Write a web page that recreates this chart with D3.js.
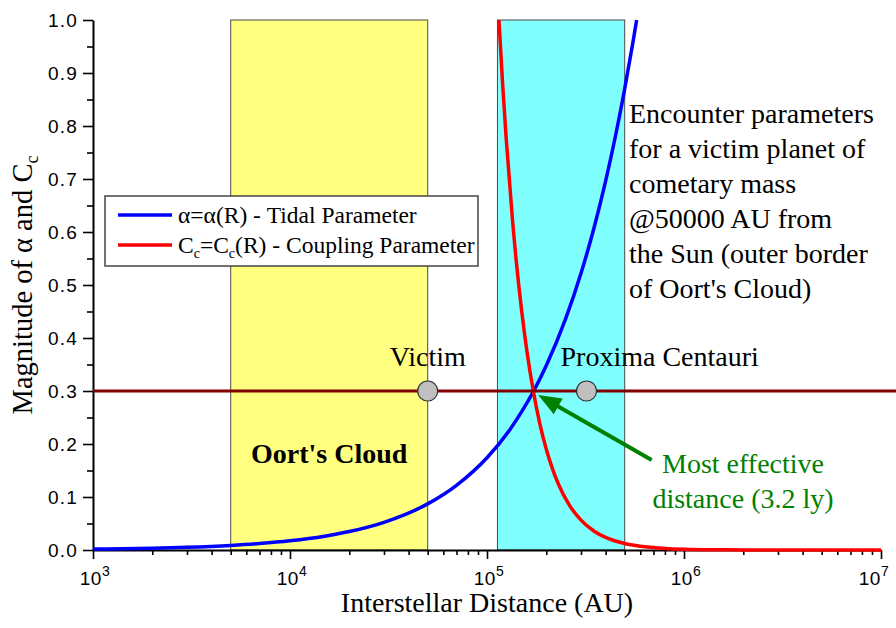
<!DOCTYPE html>
<html>
<head>
<meta charset="utf-8">
<script src="https://cdn.jsdelivr.net/npm/d3@7"></script>
<style>
  body { margin: 0; background: #ffffff; }
  svg { display: block; }
</style>
</head>
<body>
<svg id="chart" width="896" height="628"></svg>
<script>
// ---- data ----
const xDomain = [1e3, 1e7];
const yDomain = [0, 1];
const xTickExponents = [3, 4, 5, 6, 7];
const yTickValues = [0, 0.1, 0.2, 0.3, 0.4, 0.5, 0.6, 0.7, 0.8, 0.9, 1.0];

// shaded bands (AU)
const oortCloudRange = [5e3, 5e4];
const encounterRange = [1.13e5, 5e5];

// tidal parameter alpha(R)
const tidalR =     [1000, 2000, 3000, 5000, 7000, 10000, 15000, 20000, 30000, 50000, 70000, 100000, 130000, 150000, 172000, 200000, 250000, 300000, 350000, 400000, 450000, 500000, 550000, 575000];
const tidalAlpha = [0.0017, 0.0035, 0.0052, 0.0087, 0.0122, 0.0174, 0.0261, 0.0348, 0.0522, 0.087, 0.122, 0.174, 0.226, 0.261, 0.299, 0.348, 0.435, 0.522, 0.609, 0.696, 0.783, 0.870, 0.957, 1.0];

// coupling parameter Cc(R)
const couplingR =  [115000, 120000, 125000, 135000, 140000, 150000, 160000, 172000, 185000, 200000, 215000, 230000, 260000, 300000, 350000, 400000, 500000, 650000, 800000, 1000000, 1500000, 2000000, 3000000, 5000000, 10000000];
const couplingCc = [1.0, 0.880, 0.779, 0.618, 0.554, 0.451, 0.371, 0.299, 0.240, 0.190, 0.153, 0.125, 0.0865, 0.0563, 0.0355, 0.0238, 0.0122, 0.0055, 0.0030, 0.0015, 0.00045, 0.00019, 0.00006, 0.00001, 0.000002];

// reference level and marked bodies
const referenceLevel = 0.3;
const bodyNames = ["Victim", "Proxima Centauri"];
const bodyR = [5e4, 3.2e5];

// annotations
const noteLines = ["Encounter parameters", "for a victim planet of", "cometary mass", "@50000 AU from", "the Sun (outer border", "of Oort's Cloud)"];
const bestLines = ["Most effective", "distance (3.2 ly)"];
const arrowTip = [1.82e5, 0.2925];
const arrowTail = [6.85e5, 0.17];

// ---- layout ----
const W = 896, H = 628;
const plot = { left: 93, right: 881, top: 20, bottom: 550 };
const serif = "'Liberation Serif', 'Times New Roman', Times, serif";
const sans = "'Liberation Sans', Arial, Helvetica, sans-serif";

const svg = d3.select("#chart");
const x = d3.scaleLog().domain(xDomain).range([plot.left, plot.right]);
const y = d3.scaleLinear().domain(yDomain).range([plot.bottom, plot.top]);

// ---- shaded bands ----
function band(range, fill) {
  svg.append("rect")
    .attr("x", x(range[0])).attr("y", y(1))
    .attr("width", x(range[1]) - x(range[0]))
    .attr("height", y(0) - y(1))
    .attr("fill", fill)
    .attr("stroke", "#4a4a4a").attr("stroke-width", 1);
}
band(oortCloudRange, "#ffff80");
band(encounterRange, "#80ffff");

svg.append("text")
  .attr("x", x(Math.sqrt(oortCloudRange[0] * oortCloudRange[1])))
  .attr("y", y(0.165))
  .attr("text-anchor", "middle")
  .attr("font-family", serif).attr("font-size", 28).attr("font-weight", "bold")
  .text("Oort's Cloud");

// ---- axes ----
const minorX = [];
for (let e = 3; e < 7; e++) for (let m = 2; m <= 9; m++) minorX.push(m * Math.pow(10, e));
const minorY = d3.range(0.05, 1.0, 0.1);

const gx = svg.append("g").attr("transform", `translate(0,${plot.bottom})`);
gx.call(d3.axisBottom(x).tickValues(xTickExponents.map(e => Math.pow(10, e))).tickSize(9).tickSizeOuter(0).tickFormat(""));
gx.append("g").call(d3.axisBottom(x).tickValues(minorX).tickSize(5).tickFormat(""))
  .call(g => g.select(".domain").remove());
gx.selectAll("line").attr("stroke", "#000").attr("stroke-width", 1.6);
gx.select(".domain").attr("stroke", "#000").attr("stroke-width", 2);

// decade labels; the last one is nudged left so it stays inside the frame
const xLabels = svg.append("g").attr("font-family", sans).attr("fill", "#000");
xTickExponents.forEach((e, i) => {
  const nudge = i === xTickExponents.length - 1 ? -7 : 2;
  const t = xLabels.append("text")
    .attr("x", x(Math.pow(10, e)) + nudge)
    .attr("y", plot.bottom + 35)
    .attr("text-anchor", "middle")
    .attr("font-size", 19)
    .attr("letter-spacing", 0.5);
  t.append("tspan").text("10");
  t.append("tspan").attr("dy", -9).attr("font-size", 14).text(e);
});

const gy = svg.append("g").attr("transform", `translate(${plot.left},0)`);
gy.call(d3.axisLeft(y).tickValues(yTickValues).tickSize(10).tickSizeOuter(0).tickFormat(""));
gy.append("g").call(d3.axisLeft(y).tickValues(minorY).tickSize(6).tickFormat(""))
  .call(g => g.select(".domain").remove());
gy.selectAll("line").attr("stroke", "#000").attr("stroke-width", 1.6);
gy.select(".domain").attr("stroke", "#000").attr("stroke-width", 2);

svg.append("g").selectAll("text").data(yTickValues).join("text")
  .attr("x", plot.left - 15)
  .attr("y", d => y(d))
  .attr("dy", "0.36em")
  .attr("text-anchor", "end")
  .attr("font-family", sans).attr("font-size", 19)
  .attr("letter-spacing", 1.2)
  .text(d3.format(".1f"));

// axis titles
svg.append("text")
  .attr("x", (plot.left + plot.right) / 2)
  .attr("y", 612)
  .attr("text-anchor", "middle")
  .attr("font-family", serif).attr("font-size", 28)
  .text("Interstellar Distance (AU)");

const yTitle = svg.append("text")
  .attr("transform", `translate(32,${(plot.top + plot.bottom) / 2}) rotate(-90)`)
  .attr("text-anchor", "middle")
  .attr("font-family", serif).attr("font-size", 28.5);
yTitle.append("tspan").text("Magnitude of \u03b1 and C");
yTitle.append("tspan").attr("dy", 6).attr("font-size", 18).text("c");

// ---- curves ----
const line = d3.line().x(d => x(d[0])).y(d => y(d[1])).curve(d3.curveMonotoneX);

svg.append("path")
  .datum(tidalR.map((r, i) => [r, tidalAlpha[i]]))
  .attr("d", line)
  .attr("fill", "none").attr("stroke", "#0000ff").attr("stroke-width", 3.5);

svg.append("path")
  .datum(couplingR.map((r, i) => [r, couplingCc[i]]))
  .attr("d", line)
  .attr("fill", "none").attr("stroke", "#ff0000").attr("stroke-width", 3.5);

// reference level line
svg.append("line")
  .attr("x1", plot.left).attr("x2", W)
  .attr("y1", y(referenceLevel)).attr("y2", y(referenceLevel))
  .attr("stroke", "#800000").attr("stroke-width", 3);

// marked bodies
svg.append("g").selectAll("circle").data(bodyR).join("circle")
  .attr("cx", d => x(d)).attr("cy", y(referenceLevel)).attr("r", 10)
  .attr("fill", "#c0c0c0").attr("stroke", "#333").attr("stroke-width", 1.2);

const bodyLabelOffset = [0, -26];
const bodyLabelAnchor = ["middle", "start"];
svg.append("g").selectAll("text").data(bodyNames).join("text")
  .attr("x", (d, i) => x(bodyR[i]) + bodyLabelOffset[i])
  .attr("y", y(referenceLevel) - 25)
  .attr("text-anchor", (d, i) => bodyLabelAnchor[i])
  .attr("font-family", serif).attr("font-size", 28)
  .text(d => d);

// ---- annotation arrow ----
const tip = [x(arrowTip[0]), y(arrowTip[1])];
const tail = [x(arrowTail[0]), y(arrowTail[1])];
const ang = Math.atan2(tip[1] - tail[1], tip[0] - tail[0]);
const headLen = 23, headHalf = 9;
const base = [tip[0] - headLen * Math.cos(ang), tip[1] - headLen * Math.sin(ang)];
svg.append("line")
  .attr("x1", tail[0]).attr("y1", tail[1])
  .attr("x2", base[0] + 2 * Math.cos(ang)).attr("y2", base[1] + 2 * Math.sin(ang))
  .attr("stroke", "#008000").attr("stroke-width", 4);
svg.append("polygon")
  .attr("points", [
    tip,
    [base[0] + headHalf * Math.sin(ang), base[1] - headHalf * Math.cos(ang)],
    [base[0] - headHalf * Math.sin(ang), base[1] + headHalf * Math.cos(ang)]
  ].map(p => p.join(",")).join(" "))
  .attr("fill", "#008000");

svg.append("g").selectAll("text").data(bestLines).join("text")
  .attr("x", 743)
  .attr("y", (d, i) => 473 + i * 35)
  .attr("text-anchor", "middle")
  .attr("font-family", serif).attr("font-size", 28).attr("fill", "#008000")
  .text(d => d);

// ---- note block ----
svg.append("g").selectAll("text").data(noteLines).join("text")
  .attr("x", 629)
  .attr("y", (d, i) => 123 + i * 35)
  .attr("font-family", serif).attr("font-size", 28)
  .text(d => d);

// ---- legend ----
const lg = svg.append("g").attr("transform", "translate(105,196)");
lg.append("rect").attr("width", 373).attr("height", 70)
  .attr("fill", "#fff").attr("stroke", "#444").attr("stroke-width", 1.5);
const legendColors = ["#0000ff", "#ff0000"];
legendColors.forEach((c, i) => {
  lg.append("line").attr("x1", 13).attr("x2", 67)
    .attr("y1", 19 + i * 30).attr("y2", 19 + i * 30)
    .attr("stroke", c).attr("stroke-width", 3.5);
});
const lt1 = lg.append("text").attr("x", 73).attr("y", 27)
  .attr("font-family", serif).attr("font-size", 23.5);
lt1.text("\u03b1=\u03b1(R) - Tidal Parameter");
const lt2 = lg.append("text").attr("x", 73).attr("y", 57)
  .attr("font-family", serif).attr("font-size", 23.5);
lt2.append("tspan").text("C");
lt2.append("tspan").attr("dy", 5).attr("font-size", 14).text("c");
lt2.append("tspan").attr("dy", -5).text("=C");
lt2.append("tspan").attr("dy", 5).attr("font-size", 14).text("c");
lt2.append("tspan").attr("dy", -5).text("(R) - Coupling Parameter");
</script>
</body>
</html>
